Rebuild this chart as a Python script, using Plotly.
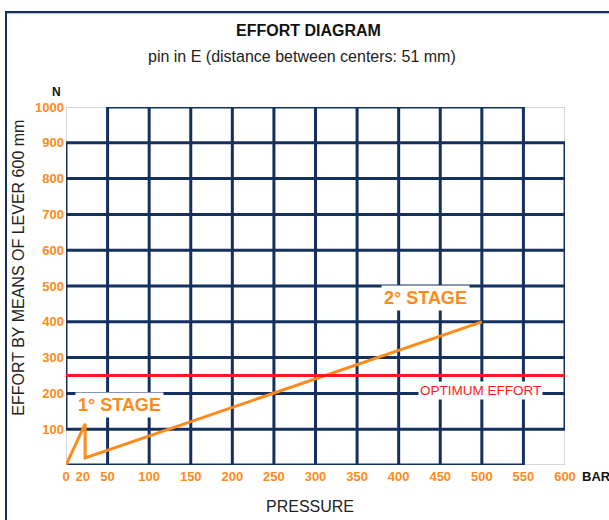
import plotly.graph_objects as go

# ---- data ----
pressure_bar = [0, 23, 23, 500]          # stage curve x (bar)
effort_n = [0, 115, 20, 400]             # stage curve y (N)
optimum_effort = 250                     # N
x_tick_vals = [0, 20, 50, 100, 150, 200, 250, 300, 350, 400, 450, 500, 550, 600]
x_tick_text = [str(v) for v in x_tick_vals]
y_tick_vals = [100, 200, 300, 400, 500, 600, 700, 800, 900, 1000]
x_grid = [50, 100, 150, 200, 250, 300, 350, 400, 450, 500, 550]
y_grid = [100, 200, 300, 400, 500, 600, 700, 800, 900]

NAVY = "#14305f"
LIGHT = "#c3cad6"
ORANGE = "#ff8a1a"
RED = "#ff1a1a"
FONT = "Arial, Liberation Sans, sans-serif"

fig = go.Figure()

fig.add_trace(go.Scatter(x=pressure_bar, y=effort_n, mode="lines",
                         line=dict(color=ORANGE, width=3), hoverinfo="skip",
                         showlegend=False))
fig.add_trace(go.Scatter(x=[0, 600], y=[optimum_effort, optimum_effort], mode="lines",
                         line=dict(color=RED, width=3), hoverinfo="skip",
                         showlegend=False))

shapes = []
def seg(x0, y0, x1, y1, color, width):
    shapes.append(dict(type="line", xref="x", yref="y", x0=x0, y0=y0, x1=x1, y1=y1,
                       line=dict(color=color, width=width), layer="below"))

# light corner borders
seg(0, 1000, 50, 1000, LIGHT, 1.5)
seg(0, 900, 0, 1000, LIGHT, 1.5)
seg(0, 0, 0, 100, LIGHT, 1.5)
seg(550, 1000, 600, 1000, LIGHT, 1.5)
seg(600, 900, 600, 1000, LIGHT, 1.5)
seg(550, 0, 600, 0, LIGHT, 1.5)
seg(600, 0, 600, 100, LIGHT, 1.5)
# dark grid
for gx in x_grid:
    seg(gx, 0, gx, 1000, NAVY, 3)
for gy in y_grid:
    seg(0, gy, 600, gy, NAVY, 3)
seg(0, 100, 0, 900, NAVY, 3)
seg(600, 100, 600, 900, NAVY, 3)
seg(50, 1000, 550, 1000, NAVY, 3)
seg(0, 0, 550, 0, NAVY, 3)

# outer frame (paper coords): plot area is 499 x 358 px starting at (66, 107)
PW, PH, L, T = 499.0, 358.0, 66.0, 107.0
def px(xpix):
    return (xpix - L) / PW
def py(ypix):
    return (T + PH - ypix) / PH
shapes.append(dict(type="line", xref="paper", yref="paper", x0=px(6), y0=py(13.5),
                   x1=px(640), y1=py(13.5), line=dict(color=LIGHT, width=1.5)))
shapes.append(dict(type="line", xref="paper", yref="paper", x0=px(6), y0=py(12),
                   x1=px(640), y1=py(12), line=dict(color=NAVY, width=2)))
shapes.append(dict(type="line", xref="paper", yref="paper", x0=px(6), y0=py(11),
                   x1=px(6), y1=py(560), line=dict(color=NAVY, width=2)))

def ann(text, x, y, size, color, xref="paper", yref="paper", **kw):
    d = dict(text=text, x=x, y=y, xref=xref, yref=yref, showarrow=False,
             xanchor=kw.pop("xanchor", "center"), yanchor="middle",
             font=dict(family=FONT, size=size, color=color))
    d.update(kw)
    return d

annotations = [
    ann("<b>EFFORT DIAGRAM</b>", 0.486, 1.215, 16, "#111111"),
    ann("pin in E (distance between centers: 51 mm)", 0.472, 1.14, 16, "#222222"),
    ann("<b>N</b>", -0.019, 1.042, 12, "#111111"),
    ann("<b>BAR</b>", 1.0295, -0.031, 13, "#111111", xanchor="left"),
    ann("PRESSURE", 0.488, -0.115, 16, "#222222"),
    ann("EFFORT BY MEANS OF LEVER 600 mm", -0.095, 0.55, 16, "#222222", textangle=-90),
    ann("<b>1° STAGE</b>", 64.5, 168, 18, ORANGE, xref="x", yref="y",
        bgcolor="white", borderpad=2),
    ann("<b>2° STAGE</b>", 432, 466, 18, ORANGE, xref="x", yref="y",
        bgcolor="white", borderpad=2),
    ann("OPTIMUM EFFORT", 498, 207, 13.5, RED, xref="x", yref="y",
        bgcolor="white", borderpad=1),
]

fig.update_layout(
    width=609, height=520,
    margin=dict(l=66, r=44, t=107, b=55),
    paper_bgcolor="white", plot_bgcolor="white",
    shapes=shapes, annotations=annotations,
    xaxis=dict(range=[0, 600], showgrid=False, zeroline=False, showline=False,
               tickmode="array", tickvals=x_tick_vals, ticktext=x_tick_text, ticks="",
               tickfont=dict(family=FONT, size=13, color=ORANGE, weight="bold"),
               ticklabelstandoff=2, fixedrange=True),
    yaxis=dict(range=[0, 1000], showgrid=False, zeroline=False, showline=False,
               tickmode="array", tickvals=y_tick_vals, ticks="",
               tickfont=dict(family=FONT, size=13, color=ORANGE, weight="bold"),
               ticklabelstandoff=1, fixedrange=True),
    showlegend=False,
)

fig.write_html("out.html", config={"displayModeBar": False},
               post_script="document.body.style.margin='0';document.body.style.overflow='hidden';")
